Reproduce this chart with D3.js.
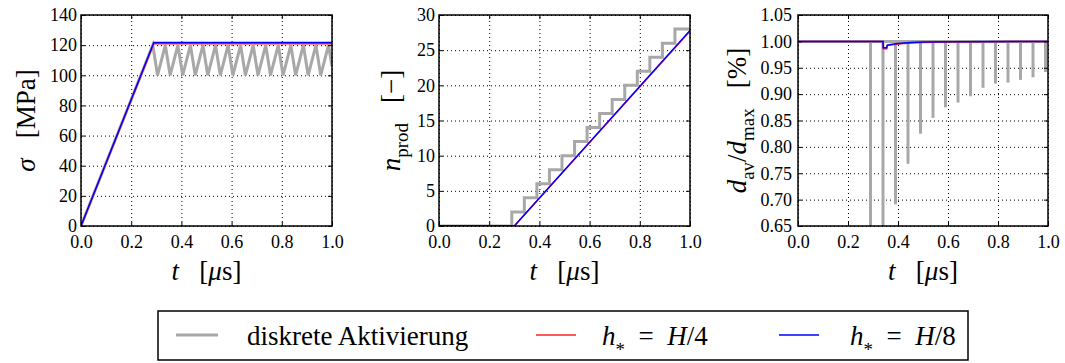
<!DOCTYPE html>
<html>
<head>
<meta charset="utf-8">
<script src="https://cdn.jsdelivr.net/npm/d3@7"></script>
<style>
body { margin: 0; background: #fff; }
.grid line { stroke: #000; stroke-width: 1; stroke-dasharray: 1,3; }
.grid path { display: none; }
.ax path { display: none; }
.ax line { stroke: #000; stroke-width: 1; }
</style>
</head>
<body>
<svg id="chart" width="1065" height="363"></svg>
<script>
// tick values
var tTicks = [0, 0.2, 0.4, 0.6, 0.8, 1.0];
var sigmaTicks = [0, 20, 40, 60, 80, 100, 120, 140];
var nTicks = [0, 5, 10, 15, 20, 25, 30];
var dTicks = [0.65, 0.70, 0.75, 0.80, 0.85, 0.90, 0.95, 1.00, 1.05];

// sigma [MPa]
var sigmaT = [0, 0.29, 1.0];
var sigmaH4 = [0, 121.0, 121.0];
var sigmaH8 = [0, 121.8, 121.8];
var sigmaDiscT = [0, 0.286, 0.305, 0.336, 0.355, 0.386, 0.405, 0.436, 0.455, 0.486, 0.505, 0.536, 0.555,
    0.586, 0.605, 0.636, 0.655, 0.686, 0.705, 0.736, 0.755, 0.786, 0.805, 0.836, 0.855, 0.886, 0.905,
    0.936, 0.955, 0.986, 1.0];
var sigmaDisc = [0, 120, 100, 120, 100, 120, 100, 120, 100, 120, 100, 120, 100,
    120, 100, 120, 100, 120, 100, 120, 100, 120, 100, 120, 100, 120, 100,
    120, 100, 120, 106];

// n_prod [-]
var nT = [0, 0.3, 1.0];
var nH4 = [0, 0, 27.7];
var nH8 = [0, 0, 27.8];
var nDiscT = [0, 0.29, 0.34, 0.39, 0.44, 0.49, 0.54, 0.59, 0.64, 0.69, 0.74, 0.79, 0.84, 0.89, 0.94, 1.0];
var nDisc = [0, 2, 4, 6, 8, 10, 12, 14, 16, 18, 20, 22, 24, 26, 28, 28];

// d_av / d_max
var dT = [0, 0.34, 0.341, 0.355, 0.357, 0.37, 0.40, 0.45, 0.50, 0.60, 1.0];
var dH4 = [1.0, 1.0, 0.986, 0.986, 0.992, 0.993, 0.995, 0.997, 0.998, 0.999, 1.0];
var dH8 = [1.0, 1.0, 0.988, 0.988, 0.993, 0.994, 0.996, 0.998, 0.999, 0.9995, 1.0];
var spikeT = [0.29, 0.34, 0.39, 0.44, 0.49, 0.54, 0.59, 0.64, 0.69, 0.74, 0.79, 0.84, 0.89, 0.94, 0.99];
var spikeMin = [0.50, 0.55, 0.691, 0.768, 0.825, 0.855, 0.875, 0.884, 0.896, 0.912, 0.920, 0.922, 0.927, 0.932, 0.942];

var svg = d3.select("#chart");
var top_ = 15, bottom_ = 226, h = bottom_ - top_;
var grayCol = "#a8a8a8", redCol = "#ff2020", blueCol = "#0000ff";
var serif = "Liberation Serif";

function addMath(textSel, parts, size) {
    var shift = 0;
    parts.forEach(function(p) {
        var want = p[1] === "sub" ? size * 0.28 : (p[1] === "star" ? size * 0.42 : 0);
        var ts = textSel.append("tspan").text(p[0]).attr("dy", want - shift);
        shift = want;
        if (p[1] === "i") ts.attr("font-style", "italic");
        if (p[1] === "sub" || p[1] === "star") ts.attr("font-size", size * 0.7);
    });
}

function zip(a, b) { return a.map(function(v, i) { return [v, b[i]]; }); }

function panel(cfg) {
    var w = cfg.right - cfg.left;
    var g = svg.append("g").attr("transform", "translate(" + cfg.left + "," + top_ + ")");
    var x = d3.scaleLinear().domain([0, 1]).range([0, w]);
    var y = d3.scaleLinear().domain(cfg.yDomain).range([h, 0]);

    g.append("g").attr("class", "grid")
        .attr("transform", "translate(0," + h + ")")
        .call(d3.axisBottom(x).tickValues(tTicks).tickSize(-h).tickFormat(""));
    g.append("g").attr("class", "grid")
        .call(d3.axisLeft(y).tickValues(cfg.yTicks).tickSize(-w).tickFormat(""));

    g.append("clipPath").attr("id", "clip" + cfg.id)
        .append("rect").attr("width", w).attr("height", h);
    var plot = g.append("g").attr("clip-path", "url(#clip" + cfg.id + ")");

    var line = d3.line().x(function(d) { return x(d[0]); }).y(function(d) { return y(d[1]); });
    cfg.draw(plot, x, y, line);

    // frame
    g.append("rect").attr("width", w).attr("height", h)
        .attr("fill", "none").attr("stroke", "#000").attr("stroke-width", 1.5);

    // ticks inside on all sides
    g.append("g").attr("class", "ax").attr("transform", "translate(0," + h + ")")
        .call(d3.axisBottom(x).tickValues(tTicks).tickSizeInner(-4).tickSizeOuter(0).tickPadding(9)
            .tickFormat(d3.format(".1f")))
        .selectAll("text").attr("font-family", serif).attr("font-size", 18);
    g.append("g").attr("class", "ax")
        .call(d3.axisTop(x).tickValues(tTicks).tickSizeInner(-4).tickSizeOuter(0).tickFormat(""));
    g.append("g").attr("class", "ax")
        .call(d3.axisLeft(y).tickValues(cfg.yTicks).tickSizeInner(-4).tickSizeOuter(0).tickPadding(cfg.pad)
            .tickFormat(cfg.fmt))
        .selectAll("text").attr("font-family", serif).attr("font-size", 18);
    g.append("g").attr("class", "ax").attr("transform", "translate(" + w + ",0)")
        .call(d3.axisRight(y).tickValues(cfg.yTicks).tickSizeInner(-4).tickSizeOuter(0).tickFormat(""));

    // x label (g is shifted by top_)
    var xl = g.append("text").attr("x", w / 2).attr("y", 280 - top_)
        .attr("text-anchor", "middle").attr("font-family", serif).attr("font-size", 27);
    addMath(xl, [["t", "i"], ["\u00a0\u00a0\u00a0[", "r"], ["\u03bc", "i"], ["s]", "r"]], 27);

    // y label
    var yl = svg.append("text")
        .attr("transform", "translate(" + cfg.ylx + "," + (top_ + h / 2) + ") rotate(-90)")
        .attr("text-anchor", "middle").attr("font-family", serif).attr("font-size", 27);
    addMath(yl, cfg.ylabel, 27);
}

panel({
    id: 1, left: 81, right: 332, yDomain: [0, 140], yTicks: sigmaTicks, fmt: d3.format("d"), pad: 4, ylx: 35,
    ylabel: [["\u03c3", "i"], ["\u00a0\u00a0\u00a0[MPa]", "r"]],
    draw: function(p, x, y, line) {
        p.append("path").attr("d", line(zip(sigmaDiscT, sigmaDisc)))
            .attr("fill", "none").attr("stroke", grayCol).attr("stroke-width", 3);
        p.append("path").attr("d", line(zip(sigmaT, sigmaH4)))
            .attr("fill", "none").attr("stroke", redCol).attr("stroke-width", 1.5);
        p.append("path").attr("d", line(zip(sigmaT, sigmaH8)))
            .attr("fill", "none").attr("stroke", blueCol).attr("stroke-width", 1.5);
    }
});

panel({
    id: 2, left: 439, right: 690, yDomain: [0, 30], yTicks: nTicks, fmt: d3.format("d"), pad: 4, ylx: 400,
    ylabel: [["n", "i"], ["prod", "sub"], ["\u00a0\u00a0\u00a0[\u2212]", "r"]],
    draw: function(p, x, y, line) {
        p.append("path").attr("d", line.curve(d3.curveStepAfter)(zip(nDiscT, nDisc)))
            .attr("fill", "none").attr("stroke", grayCol).attr("stroke-width", 3);
        line.curve(d3.curveLinear);
        p.append("path").attr("d", line(zip(nT, nH4)))
            .attr("fill", "none").attr("stroke", redCol).attr("stroke-width", 1.5);
        p.append("path").attr("d", line(zip(nT, nH8)))
            .attr("fill", "none").attr("stroke", blueCol).attr("stroke-width", 1.5);
    }
});

panel({
    id: 3, left: 798, right: 1048, yDomain: [0.65, 1.05], yTicks: dTicks, fmt: d3.format(".2f"), pad: 6, ylx: 746,
    ylabel: [["d", "i"], ["av", "sub"], ["/", "r"], ["d", "i"], ["max", "sub"], ["\u00a0\u00a0\u00a0[%]", "r"]],
    draw: function(p, x, y, line) {
        p.append("path").attr("d", line([[0, 1], [1, 1]]))
            .attr("fill", "none").attr("stroke", grayCol).attr("stroke-width", 3);
        p.selectAll(".spike").data(zip(spikeT, spikeMin)).enter().append("line")
            .attr("x1", function(d) { return x(d[0]); }).attr("x2", function(d) { return x(d[0]); })
            .attr("y1", y(1)).attr("y2", function(d) { return y(d[1]); })
            .attr("stroke", grayCol).attr("stroke-width", 3);
        p.append("path").attr("d", line(zip(dT, dH4)))
            .attr("fill", "none").attr("stroke", redCol).attr("stroke-width", 1.5);
        p.append("path").attr("d", line(zip(dT, dH8)))
            .attr("fill", "none").attr("stroke", blueCol).attr("stroke-width", 1.5);
    }
});

// legend
var legendItems = [
    { col: grayCol, sw: 3, x0: 176, x1: 218, tx: 247, parts: [["diskrete Aktivierung", "r"]] },
    { col: redCol, sw: 1.5, x0: 536, x1: 576, tx: 602, parts: [["h", "i"], ["*", "star"], ["\u2002=\u2002", "r"], ["H", "i"], ["/4", "r"]] },
    { col: blueCol, sw: 1.5, x0: 779, x1: 819, tx: 850, parts: [["h", "i"], ["*", "star"], ["\u2002=\u2002", "r"], ["H", "i"], ["/8", "r"]] }
];
svg.append("rect").attr("x", 158).attr("y", 311).attr("width", 810).attr("height", 49)
    .attr("fill", "#fff").attr("stroke", "#000").attr("stroke-width", 1.5);
var li = svg.selectAll(".leg").data(legendItems).enter().append("g").attr("class", "leg");
li.append("line")
    .attr("x1", function(d) { return d.x0; }).attr("x2", function(d) { return d.x1; })
    .attr("y1", 335).attr("y2", 335)
    .attr("stroke", function(d) { return d.col; }).attr("stroke-width", function(d) { return d.sw; });
li.append("text").attr("x", function(d) { return d.tx; }).attr("y", 345)
    .attr("font-family", serif).attr("font-size", 27)
    .each(function(d) { addMath(d3.select(this), d.parts, 27); });
</script>
</body>
</html>
